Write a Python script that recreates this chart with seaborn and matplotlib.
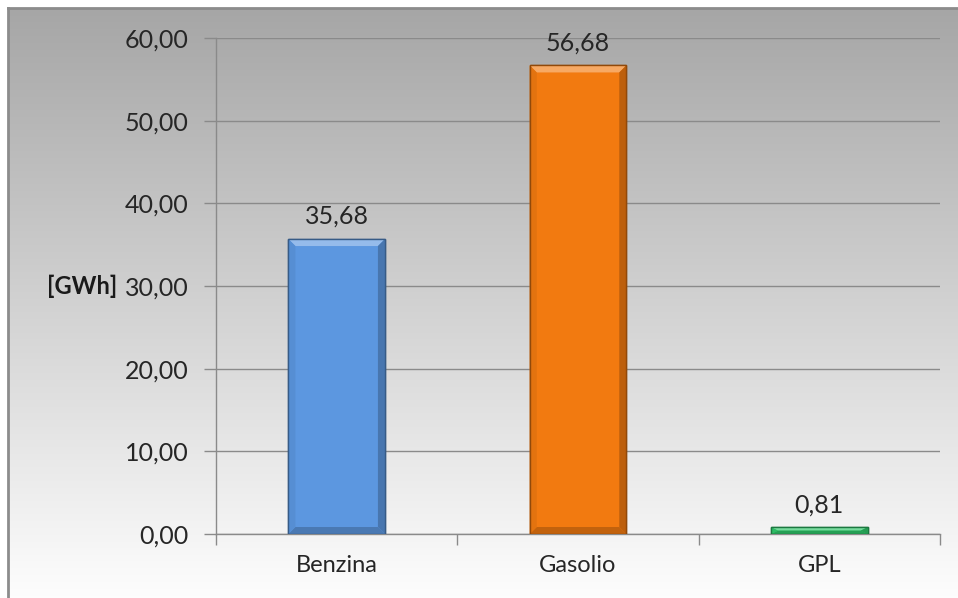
import numpy as np
import pandas as pd
import matplotlib
matplotlib.use("Agg")
import matplotlib.pyplot as plt
import matplotlib.colors as mcolors
from matplotlib.patches import Polygon
import seaborn as sns

# Energy consumption by fuel type
categories = ["Benzina", "Gasolio", "GPL"]
energy_gwh = [35.68, 56.68, 0.81]
bar_colors = ["#5c97e0", "#f27a10", "#2fc86a"]
y_ticks = [0, 10, 20, 30, 40, 50, 60]
unit_label = "[GWh]"


def it_fmt(v):
    return f"{v:.2f}".replace(".", ",")


def mix(color, other, t):
    c = np.array(mcolors.to_rgb(color))
    o = np.array(mcolors.to_rgb(other))
    return tuple(c * (1 - t) + o * t)


sns.set_theme(style="white")
plt.rcParams["font.family"] = ["Lato", "DejaVu Sans"]

W, H = 958, 598
fig = plt.figure(figsize=(W / 100, H / 100), dpi=100)
fig.patch.set_facecolor("white")

# Framed panel with a vertical grey-to-white gradient
bg = fig.add_axes([8 / W, -0.02, 1 - 8 / W + 0.02, 1 - 8 / H + 0.02], zorder=0)
grad = np.linspace(0, 1, 256).reshape(-1, 1)
cmap = mcolors.LinearSegmentedColormap.from_list("panel", ["#ffffff", "#a6a6a6"])
bg.imshow(grad, aspect="auto", cmap=cmap, origin="lower", extent=[0, 1, 0, 1])
bg.set_xlim(0, 1)
bg.set_ylim(0, 1)
bg.set_xticks([])
bg.set_yticks([])
for side in ["right", "bottom"]:
    bg.spines[side].set_visible(False)
for side in ["left", "top"]:
    bg.spines[side].set_color("#8c8c8c")
    bg.spines[side].set_linewidth(2)

# Plot area
ax = fig.add_axes([216 / W, 64 / H, 724 / W, 496 / H], zorder=1)
ax.patch.set_alpha(0)

df = pd.DataFrame({"fuel": categories, "gwh": energy_gwh})
sns.barplot(data=df, x="fuel", y="gwh", hue="fuel", palette=bar_colors,
            width=0.4, saturation=1, legend=False, ax=ax, zorder=3)

ax.set_xlim(-0.5, 2.5)
ax.set_ylim(0, 60)
ax.set_xlabel("")
ax.set_ylabel("")
ax.set_yticks(y_ticks)
ax.set_yticklabels([it_fmt(v) for v in y_ticks])
ax.yaxis.grid(True, color="#8a8a8a", lw=1)
ax.set_axisbelow(True)

ax.set_xticks(range(len(categories)))
ax.set_xticklabels(categories)
ax.set_xticks([i - 0.5 for i in range(len(categories) + 1)], minor=True)

ax.tick_params(axis="y", length=9, width=1, color="#8a8a8a", pad=11,
               labelsize=18, labelcolor="#262626", left=True)
ax.tick_params(axis="x", which="major", length=0, pad=15,
               labelsize=17, labelcolor="#262626")
ax.tick_params(axis="x", which="minor", length=8, width=1, color="#8a8a8a",
               bottom=True)

for side in ["top", "right"]:
    ax.spines[side].set_visible(False)
for side in ["left", "bottom"]:
    ax.spines[side].set_color("#8a8a8a")
    ax.spines[side].set_linewidth(1)

fig.text(82 / W, 1 - 286 / H, unit_label, ha="center", va="center",
         fontsize=17, fontweight="bold", color="#1a1a1a")

# Bevelled faces and value labels
to_px = ax.transData
to_data = ax.transData.inverted()
bevel = 7
for p in list(ax.patches):
    xc = p.get_x() + p.get_width() / 2
    idx = int(round(xc))
    val = energy_gwh[idx]
    base = bar_colors[idx]
    p.set_edgecolor(mix(base, "black", 0.4))
    p.set_linewidth(1)

    (x0, y0) = to_px.transform((p.get_x(), 0))
    (x1, y1) = to_px.transform((p.get_x() + p.get_width(), val))
    bv = min(bevel, (y1 - y0) / 2)
    bh = bevel
    faces = [
        ([(x0, y1), (x1, y1), (x1 - bh, y1 - bv), (x0 + bh, y1 - bv)], mix(base, "white", 0.35)),
        ([(x0, y0), (x1, y0), (x1 - bh, y0 + bv), (x0 + bh, y0 + bv)], mix(base, "black", 0.2)),
        ([(x0, y0), (x0, y1), (x0 + bh, y1 - bv), (x0 + bh, y0 + bv)], mix(base, "black", 0.06)),
        ([(x1, y0), (x1, y1), (x1 - bh, y1 - bv), (x1 - bh, y0 + bv)], mix(base, "black", 0.22)),
    ]
    for pts, col in faces:
        poly = Polygon(to_data.transform(pts), closed=True, facecolor=col,
                       edgecolor="none", zorder=3.5)
        ax.add_patch(poly)
    outline = Polygon(to_data.transform([(x0, y0), (x1, y0), (x1, y1), (x0, y1)]),
                      closed=True, facecolor="none",
                      edgecolor=mix(base, "black", 0.4), lw=1, zorder=3.6)
    ax.add_patch(outline)

    ax.annotate(it_fmt(val), (xc, val), xytext=(0, 8), textcoords="offset points",
                ha="center", va="bottom", fontsize=18, color="#262626",
                annotation_clip=False)

fig.savefig("out.png", dpi=100, facecolor=fig.get_facecolor())
